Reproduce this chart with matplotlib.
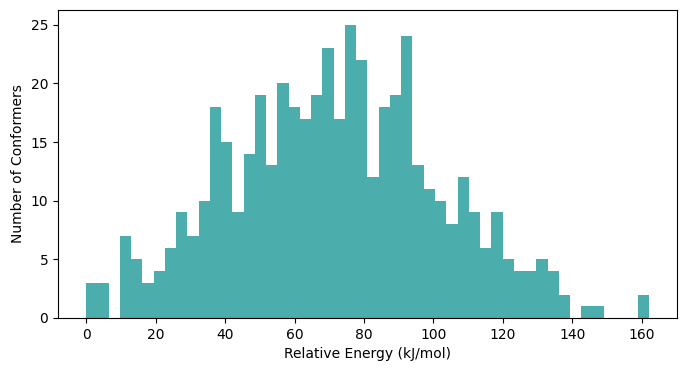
import numpy as np
import matplotlib
matplotlib.use("Agg")
import matplotlib.pyplot as plt

# contagem de conformeros por faixa de energia (50 bins, 0 a 162 kJ/mol)
energy_min = 0.0
energy_max = 162.0
counts = [3, 3, 0, 7, 5, 3, 4, 6, 9, 7,
          10, 18, 15, 9, 14, 19, 13, 20, 18, 17,
          19, 23, 17, 25, 22, 12, 18, 19, 24, 13,
          11, 10, 8, 12, 9, 6, 9, 5, 4, 4,
          5, 4, 2, 0, 1, 1, 0, 0, 0, 2]

edges = np.linspace(energy_min, energy_max, len(counts) + 1)

fig = plt.figure(figsize=(6.87, 3.71), dpi=100)
ax = fig.add_axes([0.0844, 0.1429, 0.901, 0.83])
ax.hist(edges[:-1], bins=edges, weights=counts, color='#4CADAD')
ax.set_xlabel('Relative Energy (kJ/mol)')
ax.set_ylabel('Number of Conformers')

fig.savefig('out.png', dpi=100)
